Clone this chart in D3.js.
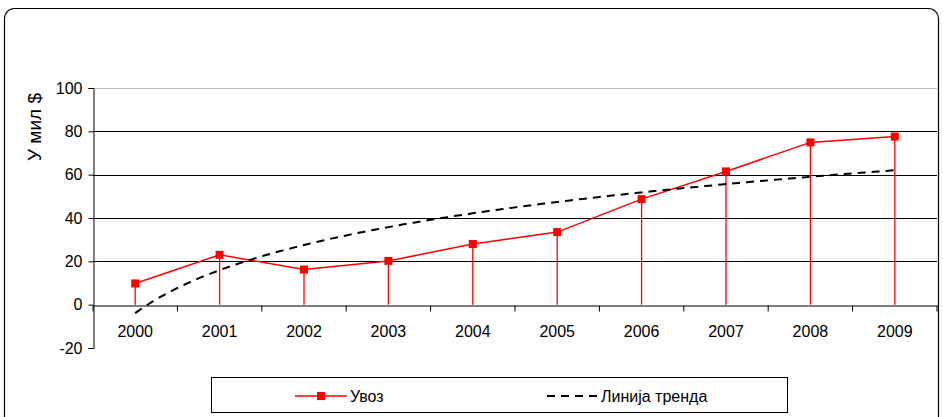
<!DOCTYPE html>
<html><head><meta charset="utf-8">
<script src="https://cdn.jsdelivr.net/npm/d3@7"></script>
<style>body{margin:0;background:#fff}svg{display:block}text{font-family:"Liberation Sans",Arial,sans-serif}</style>
</head><body>
<script>
const years = ["2000","2001","2002","2003","2004","2005","2006","2007","2008","2009"];
const imports = [9.8, 23, 16.2, 20.2, 28, 33.5, 48.7, 61.5, 74.9, 77.6];
const yTicks = [-20, 0, 20, 40, 60, 80, 100];
const seriesName = "Увоз";
const trendName = "Линија тренда";
const yTitle = "У мил $";

const W = 943, H = 417;
const svg = d3.select("body").append("svg").attr("width", W).attr("height", H);

// outer frame
svg.append("rect").attr("x", 4.5).attr("y", 8.5).attr("width", 934).attr("height", 440)
  .attr("rx", 10).attr("fill", "none").attr("stroke", "#000").attr("stroke-width", 1.2);

const L = 93, R = 937, T = 88, B = 348;
const x = d3.scaleBand().domain(years).range([L, R]);
const y = d3.scaleLinear().domain([-20, 100]).range([B, T]);
const cx = d => x(d) + x.bandwidth() / 2;

// gridlines
svg.append("g").selectAll("line").data(yTicks.filter(v => v > 0)).join("line")
  .attr("x1", L).attr("x2", R).attr("y1", d => Math.round(y(d)) + 0.5).attr("y2", d => Math.round(y(d)) + 0.5)
  .attr("stroke", d => d === 100 ? "#bbb" : "#000").attr("stroke-width", 1);

// y axis
const ya = svg.append("g").attr("transform", `translate(${L + 0.5},0)`)
  .call(d3.axisLeft(y).tickValues(yTicks).tickFormat(d => String(d)).tickSize(5).tickPadding(6));
ya.selectAll("text").attr("font-size", 16).attr("fill", "#000").style("font-family", "Liberation Sans, Arial, sans-serif");
ya.selectAll("line,path").attr("stroke", "#000");

// x axis at zero
const xa = svg.append("g").attr("transform", `translate(0,${Math.round(y(0)) + 0.5})`)
  .call(d3.axisBottom(x).tickSize(0).tickPadding(20));
xa.selectAll("text").attr("font-size", 16).attr("fill", "#000").style("font-family", "Liberation Sans, Arial, sans-serif");
xa.select("path").attr("stroke", "#000");
// category separator ticks
xa.append("g").selectAll("line").data(d3.range(years.length + 1)).join("line")
  .attr("x1", i => L + i * x.bandwidth()).attr("x2", i => L + i * x.bandwidth())
  .attr("y1", 0).attr("y2", 6).attr("stroke", "#000");

// axis title
svg.append("text").attr("transform", "translate(41,127) rotate(-90)")
  .attr("text-anchor", "middle").attr("font-size", 19).text(yTitle);

// drop lines
svg.append("g").selectAll("line").data(imports).join("line")
  .attr("x1", (d, i) => cx(years[i])).attr("x2", (d, i) => cx(years[i]))
  .attr("y1", d => y(d)).attr("y2", y(0)).attr("stroke", "#ff0000").attr("stroke-width", 1.3);

// log trend computed from data (least squares on ln(index))
const lx = imports.map((d, i) => Math.log(i + 1));
const mx = d3.mean(lx), my = d3.mean(imports);
const b = d3.sum(lx.map((v, i) => (v - mx) * (imports[i] - my))) / d3.sum(lx.map(v => (v - mx) ** 2));
const a = my - b * mx;
const trendPts = d3.range(0, 9.001, 0.05).map(t => [cx(years[0]) + t * x.bandwidth(), y(a + b * Math.log(t + 1))]);

// series line
svg.append("path").datum(imports)
  .attr("d", d3.line().x((d, i) => cx(years[i])).y(d => y(d)))
  .attr("fill", "none").attr("stroke", "#ff0000").attr("stroke-width", 1.5);

svg.append("path").datum(trendPts).attr("d", d3.line())
  .attr("fill", "none").attr("stroke", "#000").attr("stroke-width", 2).attr("stroke-dasharray", "8,6");

// markers
svg.append("g").selectAll("rect").data(imports).join("rect")
  .attr("x", (d, i) => cx(years[i]) - 4).attr("y", d => y(d) - 4)
  .attr("width", 8).attr("height", 8).attr("fill", "#ff0000");

// legend
const lg = svg.append("g");
lg.append("rect").attr("x", 211.5).attr("y", 377.5).attr("width", 576).attr("height", 35)
  .attr("fill", "#fff").attr("stroke", "#000").attr("stroke-width", 1);
lg.append("line").attr("x1", 295).attr("x2", 347).attr("y1", 396).attr("y2", 396).attr("stroke", "#ff0000").attr("stroke-width", 1.5);
lg.append("rect").attr("x", 317).attr("y", 392).attr("width", 8).attr("height", 8).attr("fill", "#ff0000");
lg.append("text").attr("x", 350).attr("y", 402).attr("font-size", 16).text(seriesName);
lg.append("line").attr("x1", 547).attr("x2", 597).attr("y1", 396).attr("y2", 396).attr("stroke", "#000").attr("stroke-width", 2).attr("stroke-dasharray", "8,6");
lg.append("text").attr("x", 601).attr("y", 402).attr("font-size", 16).text(trendName);
</script>
</body></html>
